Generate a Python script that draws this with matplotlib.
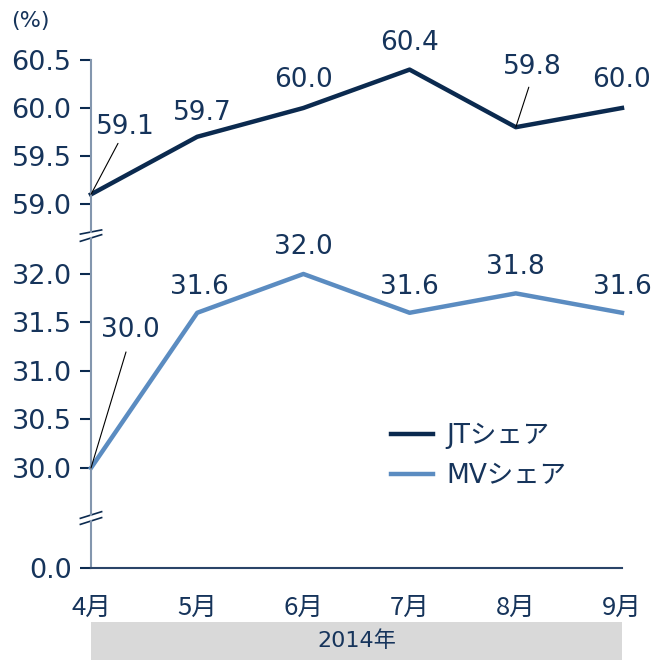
import matplotlib.pyplot as plt
import numpy as np

months = ["4月", "5月", "6月", "7月", "8月", "9月"]
jt_share = [59.1, 59.7, 60.0, 60.4, 59.8, 60.0]
mv_share = [30.0, 31.6, 32.0, 31.6, 31.8, 31.6]
top_ticks = [59.0, 59.5, 60.0, 60.5]
mid_ticks = [30.0, 30.5, 31.0, 31.5, 32.0]
year_label = "2014年"

navy = "#0b2a4f"
steel = "#5b8cc1"
txt = "#16345b"
spine_c = "#8396ae"
jp = ["Noto Sans CJK JP", "DejaVu Sans"]
lat = ["DejaVu Sans", "Noto Sans CJK JP"]

W, H = 653, 661
fig = plt.figure(figsize=(W / 100, H / 100), dpi=100)

def fax(x0, y0, x1, y1):
    # pixel box -> figure axes
    return fig.add_axes([x0 / W, 1 - y1 / H, (x1 - x0) / W, (y1 - y0) / H])

ax_top = fax(91, 60, 622, 232)
ax_mid = fax(91, 238, 622, 515)
ax_bot = fax(91, 521, 622, 568)
ax_band = fax(91, 622, 622, 660)

x = np.arange(len(months))

for ax in (ax_top, ax_mid, ax_bot):
    ax.set_xlim(0, 5)
    ax.patch.set_alpha(0)
    for s in ("top", "right", "bottom"):
        ax.spines[s].set_visible(False)
    ax.spines["left"].set_color(spine_c)
    ax.spines["left"].set_linewidth(1.5)
    ax.tick_params(axis="y", length=8, width=1.5, color=navy, labelsize=19.5,
                   labelcolor=txt, pad=6)
    ax.tick_params(axis="x", length=0)
    ax.set_xticks([])

ax_top.set_ylim(58.708, 60.5)
ax_top.set_yticks(top_ticks)
ax_top.set_yticklabels([f"{v:.1f}" for v in top_ticks])

ax_mid.set_ylim(29.515, 32.371)
ax_mid.set_yticks(mid_ticks)
ax_mid.set_yticklabels([f"{v:.1f}" for v in mid_ticks])

ax_bot.set_ylim(0, 1)
ax_bot.set_yticks([0])
ax_bot.set_yticklabels(["0.0"])
ax_bot.spines["bottom"].set_visible(True)
ax_bot.spines["bottom"].set_color("#2a4468")
ax_bot.spines["bottom"].set_linewidth(1.5)
ax_bot.tick_params(axis="x", pad=19, labelsize=18.5, labelcolor=txt)
ax_bot.set_xticks(x)
ax_bot.set_xticklabels(months)
for t in ax_bot.get_xticklabels():
    t.set_fontfamily(jp)
    t.set_fontsize(18.5)

ln1, = ax_top.plot(x, jt_share, color=navy, lw=3.2, label="JTシェア", clip_on=False)
ln2, = ax_mid.plot(x, mv_share, color=steel, lw=3.2, label="MVシェア", clip_on=False)

# data labels (offsets in pixels)
jt_off = [(34, 67), (5, 24), (0, 28), (0, 27), (17, 60), (0, 28)]
mv_off = [(39, 138), (2, 26), (0, 27), (0, 26), (0, 26), (0, 26)]
for ax, vals, offs in ((ax_top, jt_share, jt_off), (ax_mid, mv_share, mv_off)):
    for xi, v, (dx, dy) in zip(x, vals, offs):
        ax.annotate(f"{v:.1f}", (xi, v), xytext=(dx, dy), textcoords="offset pixels",
                    ha="center", va="center", fontsize=19, color=txt,
                    annotation_clip=False)

# leader lines
for ax, xi, v, end in ((ax_top, 0, jt_share[0], (27, 51)),
                       (ax_top, 4, jt_share[4], (13, 40)),
                       (ax_mid, 0, mv_share[0], (35, 116))):
    ax.annotate("", (xi, v), xytext=end, textcoords="offset pixels",
                arrowprops=dict(arrowstyle="-", color="black", lw=0.8,
                                shrinkA=0, shrinkB=0),
                annotation_clip=False)

# break marks
for ax, yf, k in ((ax_top, 0.0, 1), (ax_mid, 1.0, 1), (ax_mid, 0.0, 1), (ax_bot, 1.0, 6)):
    ax.plot([-0.02, 0.02], [yf - 0.012 * k, yf + 0.012 * k],
            transform=ax.transAxes, color=navy, lw=1.2, clip_on=False)

# legend
fig.legend(handles=[ln1, ln2], loc="upper left", bbox_to_anchor=(367 / W, 1 - 399 / H),
           frameon=False, handlelength=1.6, handletextpad=0.5,
           labelspacing=0.55, prop={"family": lat, "size": 19},
           labelcolor=txt)

# year band
ax_band.set_facecolor("#d9d9d9")
for s in ax_band.spines.values():
    s.set_visible(False)
ax_band.set_xticks([])
ax_band.set_yticks([])
ax_band.text(0.5, 0.5, year_label, ha="center", va="center", fontsize=16,
             color=txt, fontfamily=lat, transform=ax_band.transAxes)

fig.text(11 / W, 1 - 21 / H, "(%)", fontsize=16, color=txt, va="center")

fig.savefig("out.png", dpi=100)
